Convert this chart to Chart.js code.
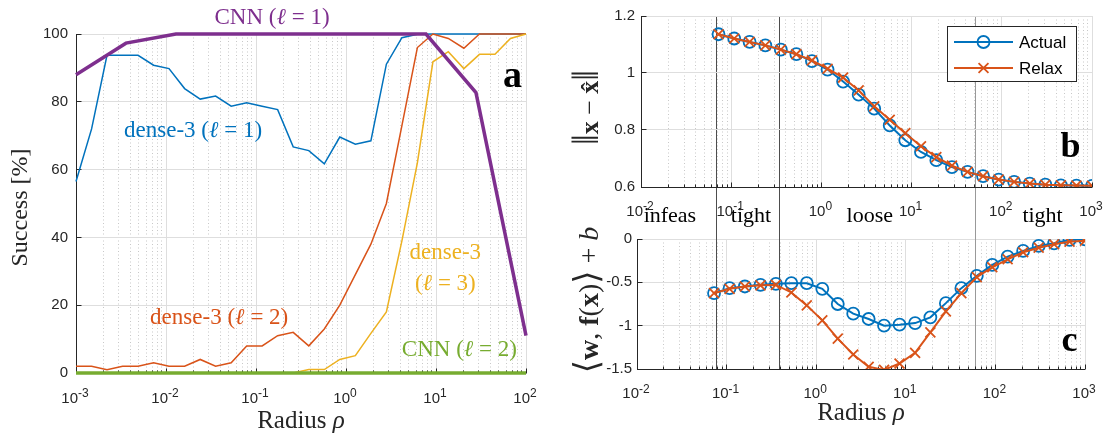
<!DOCTYPE html>
<html><head><meta charset="utf-8">
<script src="https://cdn.jsdelivr.net/npm/chart.js@4/dist/chart.umd.min.js"></script>
<style>
html,body{margin:0;padding:0;background:#fff;}
#wrap{position:relative;width:1109px;height:437px;overflow:hidden;background:#fff;}
canvas{position:absolute;top:0;}
#ca{left:0;width:555px;height:437px;z-index:1;}
#cc{left:560px;width:549px;height:437px;z-index:1;}
#cb{left:560px;width:549px;height:232px;z-index:2;}
</style></head><body>
<div id="wrap">
<canvas id="ca" width="555" height="437"></canvas>
<canvas id="cc" width="549" height="437"></canvas>
<canvas id="cb" width="549" height="232"></canvas>
</div>
<script>
// ---------------- data ----------------
const rhoA = [0.001, 0.00149, 0.00221, 0.00329, 0.00489, 0.00728, 0.0108, 0.0161, 0.0240, 0.0356,
  0.0530, 0.0788, 0.117, 0.174, 0.259, 0.386, 0.574, 0.853, 1.27, 1.89,
  2.81, 4.18, 6.21, 9.24, 13.7, 20.4, 30.4, 45.2, 67.2, 100];
const dense3L1 = [56.5, 72, 93.7, 93.7, 93.7, 90.8, 89.8, 83.9, 80.8, 81.7,
  78.7, 79.7, 78.7, 77.7, 66.7, 65.6, 61.7, 69.6, 67.5, 68.5,
  91.1, 98.9, 99.9, 100, 100, 100, 100, 100, 100, 100];
const dense3L2 = [2, 2, 1, 2, 2, 3, 2, 2, 4, 2,
  3, 8, 8, 11, 12, 8, 13, 20, 29, 38,
  50, 73, 96, 100, 98.7, 95.8, 100, 100, 100, 100];
const dense3L3 = [0, 0, 0, 0, 0, 0, 0, 0, 0, 0,
  0, 0, 0, 0, 0, 1, 1, 4, 5.1, 11.7,
  18, 39, 62, 91.8, 94.8, 89.8, 94, 94, 98.7, 100];
const rhoCNN = [0.001, 0.00359, 0.0129, 0.0464, 0.167, 0.599, 2.15, 7.74, 27.8, 100];
const cnnL1 = [88, 97.3, 100, 100, 100, 100, 100, 100, 82.7, 11];
const cnnL2 = [0, 0, 0, 0, 0, 0, 0, 0, 0, 0];

const rhoBC = [0.0724, 0.108, 0.160, 0.239, 0.355, 0.528, 0.785, 1.17, 1.74, 2.59,
  3.85, 5.72, 8.51, 12.7, 18.8, 28.0, 41.7, 62.0, 92.3, 137,
  204, 304, 452, 672, 1000];
const errActual = [1.136, 1.121, 1.109, 1.097, 1.082, 1.066, 1.042, 1.012, 0.970, 0.924,
  0.875, 0.816, 0.764, 0.723, 0.694, 0.670, 0.653, 0.638, 0.626, 0.618,
  0.612, 0.608, 0.606, 0.605, 0.604];
const errRelax = [1.136, 1.121, 1.109, 1.097, 1.082, 1.066, 1.044, 1.015, 0.984, 0.939,
  0.883, 0.836, 0.789, 0.743, 0.705, 0.675, 0.653, 0.638, 0.626, 0.618,
  0.612, 0.608, 0.606, 0.605, 0.604];
const marginActual = [-0.625, -0.567, -0.548, -0.529, -0.517, -0.510, -0.510, -0.575, -0.750, -0.862,
  -0.923, -1.0, -0.989, -0.97, -0.904, -0.74, -0.567, -0.425, -0.299, -0.203,
  -0.138, -0.080, -0.05, -0.011, -0.004];
const marginRelax = [-0.625, -0.575, -0.548, -0.535, -0.53, -0.617, -0.766, -0.939, -1.15, -1.333,
  -1.475, -1.51, -1.437, -1.314, -1.077, -0.835, -0.625, -0.44, -0.326, -0.234,
  -0.153, -0.1, -0.061, -0.031, -0.019];

const xTicksA = [1e-3, 1e-2, 1e-1, 1, 10, 100];
const xTicksBC = [1e-2, 1e-1, 1, 10, 100, 1000];
const xExpA = ['-3', '-2', '-1', '0', '1', '2'];
const xExpBC = ['-2', '-1', '0', '1', '2', '3'];
const yTicksA = [0, 20, 40, 60, 80, 100];
const yTicksB = [0.6, 0.8, 1, 1.2];
const yTicksC = [-1.5, -1, -0.5, 0];
const regionBounds = [0.0766, 0.393, 60.1];
const regionNames = ['infeas', 'tight', 'loose', 'tight'];

// ---------------- style ----------------
const SANS = "'Liberation Sans', Arial, sans-serif";
const SERIF = "'Liberation Serif', 'DejaVu Serif', serif";
const AXC = '#262626', GRID = '#dedede', GRIDMINOR = '#c8c8c8';
const BLUE = '#0072BD', ORANGE = '#D95319', YELLOW = '#EDB120', PURPLE = '#7E2F8E', GREEN = '#77AC30';

const pts = (xs, ys) => xs.map((x, i) => ({x: x, y: ys[i]}));
const crisp = v => Math.floor(v) + 0.5;
function seg(ctx, x1, y1, x2, y2) { ctx.beginPath(); ctx.moveTo(x1, y1); ctx.lineTo(x2, y2); ctx.stroke(); }

function drawRich(ctx, segs, x, y, rotate, color) {
  ctx.save();
  ctx.translate(x, y);
  if (rotate) ctx.rotate(-Math.PI / 2);
  let W = 0;
  const ws = segs.map(s => { ctx.font = s.f; const w = ctx.measureText(s.t).width; W += w; return w; });
  let cx = -W / 2;
  ctx.textBaseline = 'alphabetic'; ctx.textAlign = 'left';
  segs.forEach((s, i) => { ctx.font = s.f; ctx.fillStyle = s.c || color; ctx.fillText(s.t, cx, s.dy || 0); cx += ws[i]; });
  ctx.restore();
}

function framePlugin(cfg) {
  return {
    id: 'frame',
    beforeDatasetsDraw(chart) {
      const ctx = chart.ctx, a = chart.chartArea, x = chart.scales.x, y = chart.scales.y;
      ctx.save();
      ctx.lineWidth = 1;
      const maj = cfg.xTicks;
      ctx.strokeStyle = GRIDMINOR; ctx.setLineDash([1, 2.5]);
      for (let i = 0; i < maj.length - 1; i++) for (let m = 2; m <= 9; m++) {
        const px = crisp(x.getPixelForValue(maj[i] * m)); seg(ctx, px, a.top, px, a.bottom);
      }
      ctx.setLineDash([]);
      ctx.strokeStyle = GRID;
      maj.forEach(v => { const px = crisp(x.getPixelForValue(v)); if (Math.abs(px - a.left) > 1.5) seg(ctx, px, a.top, px, a.bottom); });
      cfg.yTicks.forEach(v => { const py = crisp(y.getPixelForValue(v)); if (Math.abs(py - a.bottom) > 1.5) seg(ctx, a.left, py, a.right, py); });
      if (cfg.under) cfg.under(chart);
      ctx.strokeStyle = AXC; ctx.lineWidth = 1;
      const L = crisp(a.left), B = crisp(a.bottom);
      seg(ctx, L, a.top, L, B + 0.5);
      seg(ctx, L - 0.5, B, a.right, B);
      maj.forEach(v => { const px = crisp(x.getPixelForValue(v)); seg(ctx, px, B, px, B - 5); });
      for (let i = 0; i < maj.length - 1; i++) for (let m = 2; m <= 9; m++) {
        const px = crisp(x.getPixelForValue(maj[i] * m)); seg(ctx, px, B, px, B - 3);
      }
      cfg.yTicks.forEach(v => { const py = crisp(y.getPixelForValue(v)); seg(ctx, L, py, L + 5, py); });
      ctx.restore();
    },
    afterDraw(chart) {
      const ctx = chart.ctx, a = chart.chartArea, x = chart.scales.x, y = chart.scales.y;
      ctx.save();
      ctx.fillStyle = AXC;
      cfg.xTicks.forEach((v, i) => {
        const px = x.getPixelForValue(v);
        ctx.font = '15px ' + SANS; const w1 = ctx.measureText('10').width;
        ctx.font = '12px ' + SANS; const w2 = ctx.measureText(cfg.xExp[i]).width;
        const x0 = px - (w1 + w2) / 2 - 1;
        const base = a.bottom + cfg.tickBase;
        ctx.textBaseline = 'alphabetic'; ctx.textAlign = 'left';
        ctx.font = '15px ' + SANS; ctx.fillText('10', x0, base);
        ctx.font = '12px ' + SANS; ctx.fillText(cfg.xExp[i], x0 + w1, base - 5.5);
      });
      (cfg.titles || []).forEach(t => {
        const p = t.pos(a);
        drawRich(ctx, t.segs, p[0], p[1], t.rotate, t.color || '#262626');
      });
      (cfg.notes || []).forEach(n => {
        drawRich(ctx, n.segs, x.getPixelForValue(n.x), y.getPixelForValue(n.y), false, n.color);
      });
      if (cfg.over) cfg.over(chart);
      ctx.restore();
    }
  };
}

const F = (sz, st) => (st ? st + ' ' : '') + sz + 'px ' + SERIF;

function baseOptions(o) {
  return {
    responsive: false, animation: false, devicePixelRatio: 1,
    layout: {padding: o.padding},
    plugins: {legend: {display: false}, tooltip: {enabled: false}},
    elements: {line: {tension: 0}},
    scales: {
      x: {type: 'logarithmic', min: o.xmin, max: o.xmax,
        ticks: {display: false}, grid: {display: false}, border: {display: false},
        afterBuildTicks: s => { s.ticks = o.xTicks.map(v => ({value: v})); },
        afterFit: s => { s.height = o.xh; }},
      y: {type: 'linear', min: o.ymin, max: o.ymax,
        ticks: {font: {family: SANS, size: 15}, color: AXC, padding: o.ypad,
          callback: v => String(Math.round(v * 100) / 100)},
        grid: {display: false, drawTicks: false}, border: {display: false},
        afterBuildTicks: s => { s.ticks = o.yTicks.map(v => ({value: v})); },
        afterFit: s => { s.width = o.yw; }}
    }
  };
}

// ---------------- panel a ----------------
new Chart(document.getElementById('ca'), {
  type: 'line',
  data: {datasets: [
    {label: 'CNN (ℓ = 2)', data: pts(rhoCNN, cnnL2), borderColor: GREEN, borderWidth: 3.5, pointRadius: 0, order: 0, clip: false},
    {label: 'CNN (ℓ = 1)', data: pts(rhoCNN, cnnL1), borderColor: PURPLE, borderWidth: 3.5, pointRadius: 0, order: 1, clip: false},
    {label: 'dense-3 (ℓ = 3)', data: pts(rhoA, dense3L3), borderColor: YELLOW, borderWidth: 1.5, pointRadius: 0, order: 2, clip: false},
    {label: 'dense-3 (ℓ = 2)', data: pts(rhoA, dense3L2), borderColor: ORANGE, borderWidth: 1.5, pointRadius: 0, order: 3, clip: false},
    {label: 'dense-3 (ℓ = 1)', data: pts(rhoA, dense3L1), borderColor: BLUE, borderWidth: 1.5, pointRadius: 0, order: 4, clip: false}
  ]},
  options: baseOptions({padding: {left: 0, right: 29, top: 34, bottom: 0}, xmin: 1e-3, xmax: 100,
    xTicks: xTicksA, yTicks: yTicksA, ymin: 0, ymax: 100, xh: 64, yw: 76, ypad: 8}),
  plugins: [framePlugin({
    xTicks: xTicksA, xExp: xExpA, yTicks: yTicksA, tickBase: 29.5,
    titles: [
      {segs: [{t: 'Success [%]', f: F(24)}], rotate: true, pos: a => [27, (a.top + a.bottom) / 2 + 4]},
      {segs: [{t: 'Radius ', f: F(25)}, {t: 'ρ', f: F(25, 'italic')}], pos: a => [(a.left + a.right) / 2, a.bottom + 55]}
    ],
    notes: [
      {segs: [{t: 'CNN (', f: F(23)}, {t: 'ℓ', f: F(23, 'italic')}, {t: ' = 1)', f: F(23)}], x: 0.151, y: 102.9, color: PURPLE},
      {segs: [{t: 'dense-3 (', f: F(23)}, {t: 'ℓ', f: F(23, 'italic')}, {t: ' = 1)', f: F(23)}], x: 0.02, y: 69.5, color: BLUE},
      {segs: [{t: 'dense-3 (', f: F(23)}, {t: 'ℓ', f: F(23, 'italic')}, {t: ' = 2)', f: F(23)}], x: 0.039, y: 14.6, color: ORANGE},
      {segs: [{t: 'dense-3', f: F(23)}], x: 12.7, y: 33.7, color: YELLOW},
      {segs: [{t: '(', f: F(23)}, {t: 'ℓ', f: F(23, 'italic')}, {t: ' = 3)', f: F(23)}], x: 12.7, y: 24.6, color: YELLOW},
      {segs: [{t: 'CNN (', f: F(23)}, {t: 'ℓ', f: F(23, 'italic')}, {t: ' = 2)', f: F(23)}], x: 18.2, y: 5.1, color: GREEN},
      {segs: [{t: 'a', f: F(38, 'bold')}], x: 70.8, y: 84.5, color: '#000'}
    ]
  })]
});

// ---------------- panel b ----------------
const actualStyle = {borderColor: BLUE, pointStyle: 'circle', pointRadius: 6, pointBorderWidth: 1.8, pointBackgroundColor: 'rgba(0,0,0,0)', pointBorderColor: BLUE, borderWidth: 2};
const relaxStyle = {borderColor: ORANGE, pointStyle: 'crossRot', pointRadius: 7, pointBorderWidth: 1.8, pointBorderColor: ORANGE, pointBackgroundColor: 'rgba(0,0,0,0)', borderWidth: 2};

function drawLegend(chart) {
  const ctx = chart.ctx, a = chart.chartArea;
  const w = 129, h = 55, r = a.right - 16, t = a.top + 10, l = r - w;
  ctx.save();
  ctx.fillStyle = '#fff'; ctx.fillRect(l, t, w, h);
  ctx.strokeStyle = AXC; ctx.lineWidth = 1; ctx.strokeRect(Math.floor(l) + 0.5, Math.floor(t) + 0.5, w, h);
  chart.data.datasets.forEach((ds, i) => {
    const yy = t + 16 + i * 26;
    ctx.strokeStyle = ds.borderColor; ctx.lineWidth = 2;
    seg(ctx, l + 7, yy, l + 66, yy);
    ctx.fillStyle = 'rgba(0,0,0,0)'; ctx.lineWidth = ds.pointBorderWidth;
    Chart.helpers.drawPoint(ctx, {pointStyle: ds.pointStyle, radius: ds.pointRadius, borderWidth: ds.pointBorderWidth, rotation: 0}, l + 36.5, yy);
    ctx.fillStyle = '#000'; ctx.font = '17px ' + SANS; ctx.textBaseline = 'middle'; ctx.textAlign = 'left';
    ctx.fillText(ds.label, l + 72, yy + 1);
  });
  ctx.restore();
}

window.chartB = new Chart(document.getElementById('cb'), {
  type: 'line',
  data: {datasets: [
    Object.assign({label: 'Actual', data: pts(rhoBC, errActual), order: 1}, actualStyle),
    Object.assign({label: 'Relax', data: pts(rhoBC, errRelax), order: 0}, relaxStyle)
  ]},
  options: baseOptions({padding: {left: 0, right: 17, top: 16, bottom: 0}, xmin: 1e-2, xmax: 1000,
    xTicks: xTicksBC, yTicks: yTicksB, ymin: 0.6, ymax: 1.2, xh: 45, yw: 81, ypad: 6}),
  plugins: [framePlugin({
    xTicks: xTicksBC, xExp: xExpBC, yTicks: yTicksB, tickBase: 28.5,
    titles: [
      {segs: [{t: '‖', f: F(38)}, {t: 'x', f: F(26, 'bold')}, {t: ' − ', f: F(26)}, {t: 'x\u0302', f: F(26, 'bold')}, {t: '‖', f: F(38)}],
       rotate: true, pos: a => [a.left - 43, (a.top + a.bottom) / 2 + 6]}
    ],
    notes: [{segs: [{t: 'b', f: F(36, 'bold')}], x: 577, y: 0.705, color: '#000'}],
    over: drawLegend
  })]
});

// ---------------- panel c ----------------
new Chart(document.getElementById('cc'), {
  type: 'line',
  data: {datasets: [
    Object.assign({label: 'Actual', data: pts(rhoBC, marginActual), order: 1}, actualStyle),
    Object.assign({label: 'Relax', data: pts(rhoBC, marginRelax), order: 0}, relaxStyle)
  ]},
  options: baseOptions({padding: {left: 0, right: 24, top: 239, bottom: 0}, xmin: 1e-2, xmax: 1000,
    xTicks: xTicksBC, yTicks: yTicksC, ymin: -1.5, ymax: 0, xh: 68, yw: 77, ypad: 5}),
  plugins: [framePlugin({
    xTicks: xTicksBC, xExp: xExpBC, yTicks: yTicksC, tickBase: 29,
    under: chart => {
      const ctx = chart.ctx, a = chart.chartArea, x = chart.scales.x;
      const top = window.chartB ? window.chartB.chartArea.top : 16;
      regionBounds.forEach((v, i) => {
        ctx.strokeStyle = i < 2 ? '#4d4d4d' : '#999999'; ctx.lineWidth = 1;
        const px = crisp(x.getPixelForValue(v));
        seg(ctx, px, top, px, a.bottom);
      });
    },
    titles: [
      {segs: [{t: '⟨', f: F(34)}, {t: 'w', f: F(28, 'bold')}, {t: ', ', f: F(28)}, {t: 'f', f: F(28, 'bold')}, {t: '(', f: F(28)},
              {t: 'x', f: F(28, 'bold')}, {t: ')', f: F(28)}, {t: '⟩', f: F(34)}, {t: ' + ', f: F(28)}, {t: 'b', f: F(28, 'italic')}],
       rotate: true, pos: a => [a.left - 39, (a.top + a.bottom) / 2 - 4]},
      {segs: [{t: 'Radius ', f: F(25)}, {t: 'ρ', f: F(25, 'italic')}], pos: a => [(a.left + a.right) / 2, a.bottom + 51]}
    ],
    notes: [
      {segs: [{t: regionNames[0], f: F(22)}], x: 0.0233, y: 0.2, color: '#000'},
      {segs: [{t: regionNames[1], f: F(22)}], x: 0.187, y: 0.2, color: '#000'},
      {segs: [{t: regionNames[2], f: F(22)}], x: 3.96, y: 0.2, color: '#000'},
      {segs: [{t: regionNames[3], f: F(22)}], x: 336, y: 0.2, color: '#000'},
      {segs: [{t: 'c', f: F(36, 'bold')}], x: 671, y: -1.295, color: '#000'}
    ]
  })]
});
</script>
</body></html>
